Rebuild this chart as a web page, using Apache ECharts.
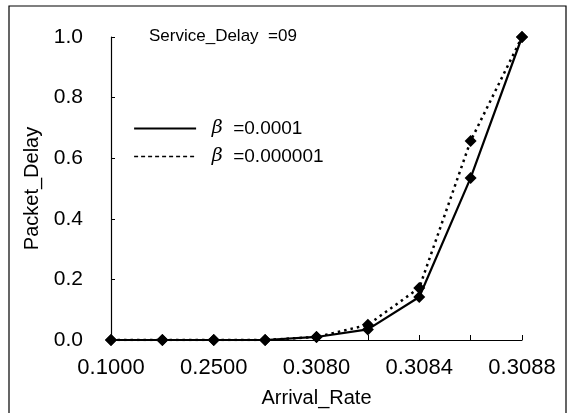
<!DOCTYPE html>
<html>
<head>
<meta charset="utf-8">
<script src="https://cdn.jsdelivr.net/npm/echarts@6/dist/echarts.min.js"></script>
<style>
  html, body { margin: 0; padding: 0; background: #fff; }
  #chart { width: 572px; height: 413px; }
</style>
</head>
<body>
<div id="chart"></div>
<script>
// x categories (only every other one is labelled in the picture)
var arrivalRates = ['0.1000', '0.2000', '0.2500', '0.3000', '0.3080', '0.3082', '0.3084', '0.3086', '0.3088'];
// beta = 0.0001 (solid)
var delayBeta4 = [0, 0, 0, 0, 0.01, 0.035, 0.142, 0.535, 1.0];
// beta = 0.000001 (dotted)
var delayBeta6 = [0, 0, 0, 0, 0.01, 0.05, 0.172, 0.657, 1.0];

var font = 'Liberation Sans, Arial, sans-serif';
var myChart = echarts.init(document.getElementById('chart'));

var option = {
    animation: false,
    backgroundColor: '#fff',
    textStyle: { fontFamily: font, color: '#000' },
    title: {
        text: 'Service_Delay  =09',
        left: 144,
        top: 23,
        textStyle: { fontFamily: font, fontSize: 17, fontWeight: 'normal', color: '#000' }
    },
    legend: {
        orient: 'vertical',
        left: 128,
        top: 114,
        itemWidth: 62,
        itemHeight: 14,
        itemGap: 9,
        selectedMode: false,
        itemStyle: { opacity: 0 },
        data: [
            { name: 'β =0.0001', lineStyle: { type: 'solid', width: 2.2, color: '#000' } },
            { name: 'β =0.000001', lineStyle: { type: [4, 3], width: 1.5, color: '#000' } }
        ],
        formatter: function (name) {
            return '  {b|β}  ' + name.replace('β ', '');
        },
        textStyle: {
            fontFamily: font,
            fontSize: 19,
            color: '#000',
            rich: {
                b: { fontFamily: 'DejaVu Serif, serif', fontStyle: 'italic', fontSize: 19, color: '#000' }
            }
        }
    },
    graphic: [{
        type: 'rect',
        shape: { x: 9, y: 6, width: 557, height: 420 },
        style: { fill: 'none', stroke: '#000', lineWidth: 1.2 },
        silent: true
    }],
    grid: { left: 111, right: 50, top: 37, bottom: 73 },
    xAxis: {
        type: 'category',
        data: arrivalRates,
        boundaryGap: false,
        name: 'Arrival_Rate',
        nameLocation: 'middle',
        nameGap: 48,
        nameTextStyle: { fontFamily: font, fontSize: 20, color: '#000' },
        axisLine: { lineStyle: { color: '#000', width: 1.2 } },
        axisTick: { show: true, inside: true, length: 5, interval: 0, lineStyle: { color: '#000' } },
        axisLabel: { interval: 1, margin: 17, fontSize: 22, color: '#000', fontFamily: font },
        splitLine: { show: false }
    },
    yAxis: {
        type: 'value',
        min: 0,
        max: 1,
        interval: 0.2,
        name: 'Packet_Delay',
        nameLocation: 'middle',
        nameGap: 64,
        nameTextStyle: { fontFamily: font, fontSize: 20, color: '#000' },
        axisLine: { show: true, lineStyle: { color: '#000', width: 1.2 } },
        axisTick: { show: true, inside: true, length: 4, lineStyle: { color: '#000' } },
        axisLabel: {
            margin: 28, fontSize: 21, color: '#000', fontFamily: font,
            formatter: function (v) { return v.toFixed(1); }
        },
        splitLine: { show: false }
    },
    series: [
        {
            name: 'β =0.000001',
            type: 'line',
            data: delayBeta6,
            symbol: 'diamond',
            symbolSize: 12,
            itemStyle: { color: '#000' },
            lineStyle: { color: '#000', width: 2.5, type: [2.5, 4] },
            z: 2
        },
        {
            name: 'β =0.0001',
            type: 'line',
            data: delayBeta4,
            symbol: 'diamond',
            symbolSize: 12,
            itemStyle: { color: '#000' },
            lineStyle: { color: '#000', width: 2.2, type: 'solid' },
            z: 3
        }
    ]
};
myChart.setOption(option);
</script>
</body>
</html>
